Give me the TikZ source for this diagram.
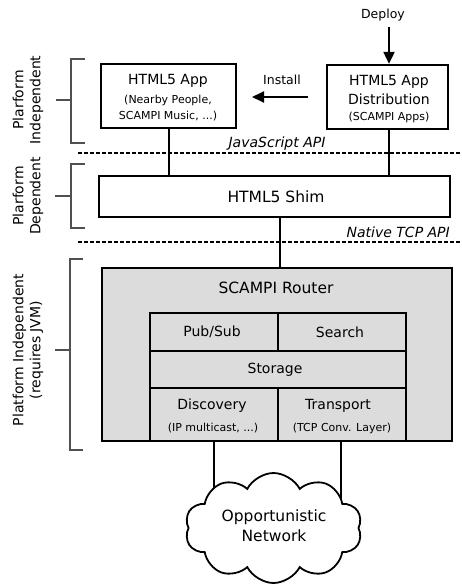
\documentclass[tikz,border=0pt]{standalone}
\usepackage{fontspec}
\setmainfont{DejaVu Sans}
\usetikzlibrary{shapes.symbols,arrows.meta,backgrounds}
\definecolor{routergray}{HTML}{DCDCDC}
\definecolor{brackgray}{HTML}{505050}
\begin{document}
\begin{tikzpicture}[x=1pt,y=-1pt,
  box/.style={draw=black,line width=2.3pt,fill=white,inner sep=0pt},
  graybox/.style={draw=black,line width=2.3pt,fill=routergray,inner sep=0pt},
  txt/.style={inner sep=0pt},
  conn/.style={line width=2pt},
  arr/.style={line width=2pt,-{Triangle[length=12pt,width=11pt]}},
  apiline/.style={line width=1.4pt,dash pattern=on 3.5pt off 2.5pt},
  brack/.style={line width=1.3pt,draw=brackgray},
  big/.style={font=\fontsize{15.5}{18}\selectfont},
  mid/.style={font=\fontsize{14}{17}\selectfont},
  lbl/.style={font=\fontsize{12.5}{15}\selectfont},
  small/.style={font=\fontsize{11}{14}\selectfont},
  sidelabel/.style={font=\fontsize{14}{17}\selectfont,rotate=90,align=center,inner sep=0pt}
]
\useasboundingbox (0,0) rectangle (461,585);

% top boxes
\node[box,minimum width=135pt,minimum height=64pt] (app) at (168.5,96) {};
\node[txt,mid] (appT) at (168,81) {HTML5 App};
\node[txt,small] (appS1) at (168,100.5) {(Nearby People,};
\node[txt,small] (appS2) at (168,116.5) {SCAMPI Music, ...)};

\node[box,minimum width=121pt,minimum height=64pt] (dist) at (387.5,97) {};
\node[txt,mid] (distT1) at (389,82) {HTML5 App};
\node[txt,mid] (distT2) at (389,99.5) {Distribution};
\node[txt,small] (distS) at (389,117) {(SCAMPI Apps)};

\node[lbl] (deploy) at (383,15) {Deploy};
\coordinate (deployend) at (389,27);
\draw[arr] (deployend) -- (dist.north -| deployend);

\node[lbl] (install) at (282,80) {Install};
\coordinate (instA) at (308,97);
\coordinate (instB) at (252,97);
\draw[arr] (instA) -- (instB);

% shim
\node[box,minimum width=351pt,minimum height=41pt] (shim) at (274.5,196.5) {};
\node[txt,big] (shimT) at (276,197) {HTML5 Shim};

% router
\node[graybox,minimum width=350pt,minimum height=173pt] (router) at (277,354.5) {};
\node[txt,big] (routerlabel) at (276,288) {SCAMPI Router};
\node[graybox,minimum width=128pt,minimum height=38pt] (pubsub) at (214,332) {};
\node[txt,mid] (pubsubT) at (212,332) {Pub/Sub};
\node[graybox,minimum width=128pt,minimum height=38pt] (search) at (342,332) {};
\node[txt,mid] (searchT) at (340,332) {Search};
\node[graybox,minimum width=256pt,minimum height=37pt] (storage) at (278,369.5) {};
\node[txt,mid] (storageT) at (275,370) {Storage};
\node[graybox,minimum width=128pt,minimum height=53pt] (disc) at (214,414.5) {};
\node[txt,mid] (discT) at (212,406) {Discovery};
\node[txt,small] (discS) at (213,428) {(IP multicast, ...)};
\node[graybox,minimum width=128pt,minimum height=53pt] (trans) at (342,414.5) {};
\node[txt,mid] (transT) at (338,406) {Transport};
\node[txt,small] (transS) at (342,428) {(TCP Conv. Layer)};

% cloud
\node[cloud,draw=black,line width=1.8pt,fill=white,cloud puffs=10,cloud puff arc=125,
  aspect=1.55,minimum width=177pt,minimum height=110pt,inner sep=0pt]
  (cloud) at (273.5,528) {};
\node[txt,big] (cloudT1) at (274,517) {Opportunistic};
\node[txt,big] (cloudT2) at (274,536) {Network};

% connectors
\begin{scope}[on background layer]
\draw[conn] (app.south) -- (app.south |- shim.north);
\draw[conn] (dist.south -| 389,0) -- (shim.north -| 389,0);
\draw[conn] (shim.south -| 280,0) -- (router.north -| 280,0);
\draw[conn] (disc.south) -- (disc.south |- cloud.center);
\draw[conn] (trans.south -| 341,0) -- (cloud.center -| 341,0);
\end{scope}

% API lines
\coordinate (jsL) at (78,153);
\coordinate (jsR) at (461,153);
\draw[apiline] (jsL) -- (jsR);
\node[txt,font=\fontsize{14}{17}\selectfont\itshape] (jsapi) at (277,143.5) {JavaScript API};
\coordinate (tcpL) at (78,242);
\coordinate (tcpR) at (461,242);
\draw[apiline] (tcpL) -- (tcpR);
\node[font=\fontsize{14}{17}\selectfont\itshape,anchor=east,inner sep=0pt] (tcpapi) at (450,232) {Native TCP API};

% brackets
\draw[brack] (85,59) -- (71,59) -- (71,143) -- (85,143);
\draw[brack] (56,100) -- (71,100);
\draw[brack] (85,164) -- (71,164) -- (71,228) -- (85,228);
\draw[brack] (55,196) -- (71,196);
\draw[brack] (83,259) -- (70,259) -- (70,450) -- (83,450);
\draw[brack] (55,350) -- (70,350);

\node[sidelabel] (lab1) at (28,100) {Plarform\\Independent};
\node[sidelabel] (lab2) at (28,196) {Plarform\\Dependent};
\node[sidelabel] (lab3) at (28,350) {Platform Independent\\(requires JVM)};
\end{tikzpicture}
\end{document}
